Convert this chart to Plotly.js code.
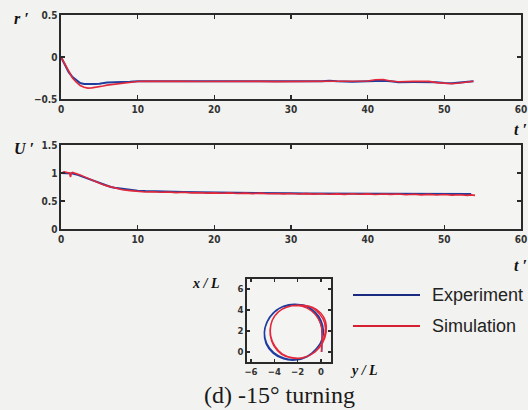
<!DOCTYPE html>
<html>
<head>
<meta charset="utf-8">
<script src="https://cdn.plot.ly/plotly-3.0.1.min.js"></script>
<style>html,body{margin:0;padding:0;background:#f2f2f0;}#chart{width:528px;height:410px;}</style>
</head>
<body>
<div id="chart"></div>
<script>
// ---- r' (yaw rate) ----
const tR = [0,0.3,0.6,1,1.5,2,2.5,3,3.5,4,
  4.5,5,5.5,6,7,8,9,10,11,12,
  14,16,18,20,22,24,26,28,30,32,
  34,35,36,38,40,41,42,43,44,46,
  48,49,50,51,52,53,53.8];
const rExp = [0,-0.06,-0.12,-0.18,-0.24,-0.28,-0.31,-0.32,-0.322,-0.32,
  -0.32,-0.318,-0.31,-0.305,-0.3,-0.3,-0.295,-0.29,-0.29,-0.29,
  -0.29,-0.29,-0.298,-0.298,-0.292,-0.29,-0.292,-0.295,-0.295,-0.29,
  -0.288,-0.282,-0.29,-0.296,-0.288,-0.282,-0.283,-0.29,-0.3,-0.298,
  -0.296,-0.3,-0.31,-0.312,-0.305,-0.292,-0.29];
const rSim = [0,-0.05,-0.11,-0.18,-0.25,-0.3,-0.34,-0.36,-0.37,-0.368,
  -0.362,-0.355,-0.345,-0.335,-0.322,-0.31,-0.3,-0.292,-0.29,-0.288,
  -0.29,-0.288,-0.292,-0.29,-0.29,-0.292,-0.29,-0.293,-0.292,-0.288,
  -0.29,-0.285,-0.29,-0.29,-0.285,-0.27,-0.268,-0.285,-0.295,-0.29,
  -0.29,-0.305,-0.315,-0.318,-0.31,-0.295,-0.288];

// ---- U' (speed) ----
const tUExp = [0,0.5,1,1.5,2,2.5,3,3.5,4,4.5,
  5,5.5,6,6.5,7,8,9,10,11,12,
  14,16,18,20,22,25,28,30,32,35,
  38,40,42,44,46,48,50,52,53.5];
const uExp = [1.0,1.0,0.995,0.99,0.975,0.95,0.925,0.895,0.87,0.84,
  0.815,0.79,0.77,0.75,0.735,0.715,0.7,0.685,0.678,0.672,
  0.665,0.66,0.655,0.65,0.647,0.643,0.64,0.638,0.636,0.634,
  0.632,0.631,0.63,0.629,0.628,0.627,0.626,0.625,0.625];
const tUSim = [0,0.4,0.8,1.1,1.25,1.35,1.5,2,2.5,3,
  3.5,4,4.5,5,5.5,6,6.5,7,7.5,8,
  9,10,11,12,13,14,15,16,17,18,
  19,20,21,22,23,24,25,26,27,28,
  29,30,31,32,33,34,35,36,37,38,
  39,40,41,42,43,44,45,46,47,48,
  49,50,51,52,53,53.5,54];
const uSim = [1.0,1.02,1.01,1.0,0.93,1.0,1.01,0.99,0.965,0.935,
  0.905,0.875,0.845,0.815,0.79,0.77,0.75,0.73,0.715,0.7,
  0.685,0.67,0.66,0.665,0.655,0.66,0.65,0.655,0.645,0.65,
  0.64,0.645,0.638,0.645,0.635,0.64,0.632,0.64,0.63,0.635,
  0.628,0.635,0.625,0.632,0.622,0.63,0.62,0.628,0.618,0.63,
  0.62,0.628,0.615,0.625,0.618,0.626,0.612,0.62,0.61,0.618,
  0.608,0.615,0.605,0.612,0.6,0.61,0.6];

// ---- trajectory (y/L horizontal, x/L vertical) ----
const yExp = [0.05,0.08,0.1,0.05,-0.2,-0.7,-1.4,-2.3,-3.2,-4.0,-4.6,-4.85,-4.7,-4.1,-3.2,-2.2,-1.2,-0.4,0.1,0.2,
  0.0,-0.5,-1.3,-2.3,-3.3,-4.1,-4.65,-4.85,-4.65,-4.05,-3.15,-2.15,-1.15,-0.35,0.12,0.18,-0.05,-0.6,-1.4,-2.3,-3.2];
const xExp = [0,0.8,1.6,2.4,3.2,3.9,4.4,4.55,4.35,3.8,2.9,1.9,0.8,-0.1,-0.65,-0.76,-0.45,0.3,1.2,2.1,
  3.0,3.8,4.4,4.5,4.3,3.7,2.8,1.8,0.8,-0.05,-0.6,-0.72,-0.4,0.35,1.3,2.2,3.1,3.9,4.4,4.52,4.3];
const ySim = [0.05,0.08,0.12,0.05,-0.25,-0.8,-1.6,-2.5,-3.3,-3.95,-4.3,-4.35,-4.05,-3.4,-2.5,-1.5,-0.6,0.05,0.35,0.3,
  -0.1,-0.75,-1.6,-2.5,-3.35,-4.0,-4.3,-4.3,-3.95,-3.3,-2.4,-1.4,-0.5,0.15,0.45,0.4,0.0,-0.7,-1.6,-2.5];
const xSim = [0,0.8,1.6,2.4,3.2,3.9,4.35,4.4,4.1,3.45,2.6,1.6,0.6,-0.2,-0.58,-0.55,-0.05,0.8,1.8,2.8,
  3.6,4.2,4.42,4.4,4.05,3.4,2.5,1.5,0.55,-0.2,-0.55,-0.5,0.0,0.9,1.9,2.9,3.7,4.25,4.45,4.4];

const tTicks = [0,10,20,30,40,50,60];
const seriesNames = ['Experiment','Simulation'];
const caption = '(d) -15° turning';

const cExp = '#1f3d9e', cSim = '#e2283a';
const W = 528, H = 410;
const px = v => v / W, py = v => 1 - v / H;

const tickFont = {family:'Liberation Sans Narrow, DejaVu Sans Condensed, Liberation Sans, sans-serif', size:10, color:'#333', weight:'bold'};
const axBase = {showline:true, mirror:'ticks', linecolor:'#2a2a2a', linewidth:1.6, ticks:'inside', ticklen:4, tickcolor:'#2a2a2a', tickwidth:1.3, showgrid:false, zeroline:false, tickfont:tickFont, fixedrange:true};

const traces = [
  {x:tR, y:rExp, xaxis:'x', yaxis:'y', mode:'lines', line:{color:cExp, width:2}, name:seriesNames[0]},
  {x:tR, y:rSim, xaxis:'x', yaxis:'y', mode:'lines', line:{color:cSim, width:1.6}, name:seriesNames[1]},
  {x:tUExp, y:uExp, xaxis:'x2', yaxis:'y2', mode:'lines', line:{color:cExp, width:2}, name:seriesNames[0]},
  {x:tUSim, y:uSim, xaxis:'x2', yaxis:'y2', mode:'lines', line:{color:cSim, width:1.6}, name:seriesNames[1]},
  {x:yExp, y:xExp, xaxis:'x3', yaxis:'y3', mode:'lines', line:{color:cExp, width:1.6, shape:'spline'}, name:seriesNames[0]},
  {x:ySim, y:xSim, xaxis:'x3', yaxis:'y3', mode:'lines', line:{color:cSim, width:1.4, shape:'spline'}, name:seriesNames[1]}
];

const serifB = {family:'Liberation Serif, Times New Roman, serif', size:16, color:'#111', weight:'bold', style:'italic'};
const ann = (text, x, y, font, extra) => Object.assign({text:text, xref:'paper', yref:'paper', x:px(x), y:py(y), xanchor:'center', yanchor:'middle', showarrow:false, font:font}, extra || {});

const legFont = {family:'Liberation Sans, Arial, sans-serif', size:18, color:'#222'};

const layout = {
  width:W, height:H, margin:{l:0,r:0,t:0,b:0},
  paper_bgcolor:'#f2f2f0', plot_bgcolor:'#f4f4f2', showlegend:false,
  xaxis: Object.assign({}, axBase, {domain:[px(61),px(521)], range:[0,60], tickvals:tTicks, anchor:'y'}),
  yaxis: Object.assign({}, axBase, {domain:[py(99),py(15)], range:[-0.5,0.5], tickvals:[-0.5,0,0.5], anchor:'x'}),
  xaxis2: Object.assign({}, axBase, {domain:[px(61),px(521)], range:[0,60], tickvals:tTicks, anchor:'y2'}),
  yaxis2: Object.assign({}, axBase, {domain:[py(229),py(145)], range:[0,1.5], tickvals:[0,0.5,1,1.5], anchor:'x2'}),
  xaxis3: Object.assign({}, axBase, {domain:[px(247),px(331)], range:[-6.34,0.86], tickvals:[-6,-4,-2,0], anchor:'y3', tickfont:Object.assign({}, tickFont, {size:9.5}), ticklen:3}),
  yaxis3: Object.assign({}, axBase, {domain:[py(362),py(279)], range:[-0.95,6.95], tickvals:[0,2,4,6], anchor:'x3', tickfont:Object.assign({}, tickFont, {size:9.5}), ticklen:3}),
  annotations: [
    ann('r ′', 21, 18, serifB),
    ann('t ′', 520, 129, serifB),
    ann('U ′', 24, 148, serifB),
    ann('t ′', 520, 265, serifB),
    ann('x / L', 205, 283, Object.assign({}, serifB, {size:14})),
    ann('y / L', 364, 370, Object.assign({}, serifB, {size:14})),
    ann(seriesNames[0], 430, 295, legFont, {xanchor:'left'}),
    ann(seriesNames[1], 430, 326, legFont, {xanchor:'left'}),
    ann(caption, 279, 395, {family:'Liberation Serif, Times New Roman, serif', size:24, color:'#1a1a1a'})
  ],
  shapes: [
    {type:'line', xref:'paper', yref:'paper', x0:px(353), x1:px(420), y0:py(295), y1:py(295), line:{color:'#1a2a80', width:2}},
    {type:'line', xref:'paper', yref:'paper', x0:px(353), x1:px(420), y0:py(326), y1:py(326), line:{color:'#d42030', width:2}}
  ]
};

Plotly.newPlot('chart', traces, layout, {staticPlot:true, displayModeBar:false});
</script>
</body>
</html>
